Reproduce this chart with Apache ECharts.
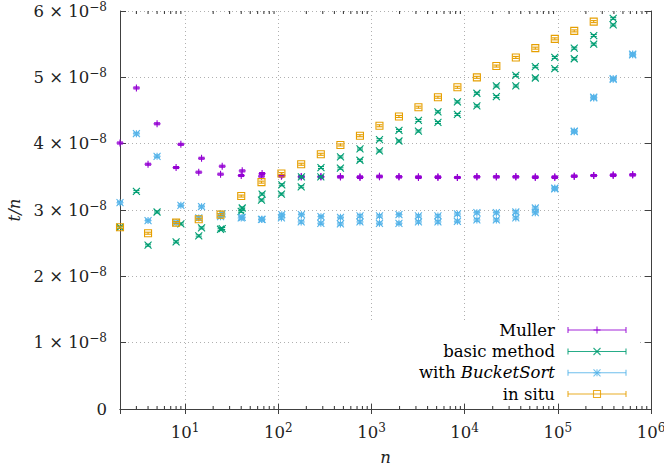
<!DOCTYPE html>
<html>
<head>
<meta charset="utf-8">
<script src="https://cdn.jsdelivr.net/npm/echarts@6/dist/echarts.min.js"></script>
<style>
html,body{margin:0;padding:0;background:#fff}
#chart{width:664px;height:469px}
</style>
</head>
<body>
<div id="chart"></div>
<script>
'use strict'

// n of the two runs (the second one is one less)
var nRunA = [3,5,9,15,25,41,67,109,177,287,465,753,1219,1973,3193,5167,8361,13529,21891,35421,57313,92735,150049,242785,392835,635621];
var nRunB = [2,4,8,14,24,40,66,108,176,286,464,752,1218,1972,3192,5166,8360,13528,21890,35420,57312,92734,150048,242784,392834,635620];

// t/n in units of 1e-8
var mullerA = [4.84,4.30,3.99,3.78,3.66,3.59,3.55,3.52,3.50,3.50,3.50,3.49,3.50,3.50,3.49,3.49,3.49,3.50,3.50,3.50,3.49,3.49,3.51,3.52,3.52,3.53];
var mullerB = [4.01,3.69,3.64,3.57,3.54,3.52,3.51,3.51,3.50,3.50,3.50,3.50,3.51,3.50,3.50,3.50,3.49,3.50,3.50,3.50,3.50,3.50,3.51,3.52,3.53,3.53];
var basicA = [3.28,2.97,2.79,2.73,2.72,3.03,3.24,3.38,3.50,3.64,3.80,3.92,4.06,4.20,4.35,4.48,4.63,4.76,4.87,5.03,5.16,5.30,5.44,5.63,5.89,null];
var basicB = [2.74,2.47,2.52,2.61,2.71,2.98,3.15,3.24,3.35,3.50,3.63,3.75,3.89,4.04,4.19,4.32,4.44,4.57,4.71,4.87,4.99,5.13,5.28,5.50,5.79,null];
var bucketA = [4.15,3.81,3.07,3.05,2.94,2.89,2.86,2.93,2.93,2.90,2.89,2.91,2.91,2.93,2.91,2.91,2.94,2.96,2.96,2.97,3.03,3.33,4.19,4.70,4.98,5.35];
var bucketB = [3.11,2.84,2.81,2.88,2.90,2.88,2.86,2.88,2.82,2.80,2.79,2.82,2.80,2.80,2.82,2.82,2.83,2.85,2.85,2.88,2.96,3.32,4.18,4.69,4.97,5.34];
var inSitu = [2.74,2.65,2.81,2.86,2.93,3.21,3.42,3.55,3.69,3.84,3.98,4.12,4.27,4.41,4.55,4.70,4.85,5.00,5.17,5.30,5.44,5.58,5.70,5.84,null,null];
var errMuller = 0.015, errBasic = 0.015, errBucket = 0.02, errInSitu = 0.015;

var minorTicks = [3,4,5,6,7,8,9,20,30,40,50,60,70,80,90,200,300,400,500,600,700,800,900,
  2000,3000,4000,5000,6000,7000,8000,9000,20000,30000,40000,50000,60000,70000,80000,90000,
  200000,300000,400000,500000,600000,700000,800000,900000];

var seriesNames = ['Muller', 'basic method', 'with BucketSort', 'in situ'];
var seriesColors = ['#9400d3', '#009e73', '#56b4e9', '#e69f00'];
var seriesMarks = ['plus', 'cross', 'star', 'box'];

var FONT = 'DejaVu Serif';
var FS = 16.5;
var TXT = '#222';

function pairs(ns, ys, err){
    var out = [];
    for (var i = 0; i < ns.length; i++) {
        if (ys[i] !== null) out.push([ns[i], ys[i], err]);
    }
    return out;
}

function ln(x1, y1, x2, y2, color){
    return {type:'line', shape:{x1:x1, y1:y1, x2:x2, y2:y2}, style:{stroke:color, lineWidth:1.1}};
}

// point symbol like gnuplot's pt 1,2,3,4
function markShapes(kind, cx, cy, color){
    var s = 3.5, els = [];
    if (kind === 'plus' || kind === 'star') {
        els.push(ln(cx - s, cy, cx + s, cy, color), ln(cx, cy - s, cx, cy + s, color));
    }
    if (kind === 'cross' || kind === 'star') {
        els.push(ln(cx - s, cy - s, cx + s, cy + s, color), ln(cx - s, cy + s, cx + s, cy - s, color));
    }
    if (kind === 'box') {
        els.push({type:'rect', shape:{x:cx - s, y:cy - s, width:2 * s, height:2 * s},
            style:{stroke:color, fill:'transparent', lineWidth:1.1}});
    }
    return els;
}

function pointSeries(idx, data){
    var color = seriesColors[idx], kind = seriesMarks[idx];
    return {
        name: seriesNames[idx],
        type: 'custom',
        coordinateSystem: 'cartesian2d',
        encode: {x: 0, y: 1},
        data: data,
        z: 3 + idx,
        renderItem: function(params, api){
            var x = api.value(0), y = api.value(1), e = api.value(2);
            var p = api.coord([x, y]);
            var t = api.coord([x, y + e]);
            var b = api.coord([x, y - e]);
            var c = 3;
            var kids = [
                ln(p[0], t[1], p[0], b[1], color),
                ln(p[0] - c, t[1], p[0] + c, t[1], color),
                ln(p[0] - c, b[1], p[0] + c, b[1], color)
            ].concat(markShapes(kind, p[0], p[1], color));
            return {type: 'group', children: kids, style: {opacity: 0.85}};
        }
    };
}

function isPow10(v){
    var e = Math.round(Math.log(v) / Math.LN10);
    return Math.abs(v - Math.pow(10, e)) < 1e-6 * v ? e : null;
}

var rich = {
    b: {fontFamily: FONT, fontSize: FS, color: TXT},
    s: {fontFamily: FONT, fontSize: 12, color: TXT, padding: [0, 0, 9, 0]},
    i: {fontFamily: FONT, fontSize: FS, color: TXT, fontStyle: 'italic'}
};

var axisLineStyle = {color: '#404040', width: 1};
var gridLine = {show: true, lineStyle: {color: '#b0b0b0', type: [1, 3], width: 1}};

// legend drawn by hand (text + errorbar sample), gnuplot style
var legendRows = [330, 351.5, 372.8, 394];
var legendGraphics = [{
    type: 'rect', shape: {x: 350, y: 320, width: 287, height: 83},
    style: {fill: '#fff'}, z: 1
}];
var legendTexts = ['{b|Muller}', '{b|basic method}', '{b|with }{i|BucketSort}', '{b|in situ}'];
legendRows.forEach(function(ry, i){
    var col = seriesColors[i];
    legendGraphics.push({
        type: 'text', z: 10,
        style: {x: 555, y: ry, text: legendTexts[i], rich: rich, fontFamily: FONT, fontSize: FS,
            align: 'right', verticalAlign: 'middle'}
    });
    var parts = [ln(568, ry, 626, ry, col), ln(568, ry - 3, 568, ry + 3, col), ln(626, ry - 3, 626, ry + 3, col)]
        .concat(markShapes(seriesMarks[i], 597, ry, col));
    parts.forEach(function(el){ el.z = 10; el.style.opacity = 0.85; legendGraphics.push(el); });
});

var chart = echarts.init(document.getElementById('chart'), null, {renderer: 'svg'});
chart.setOption({
    animation: false,
    backgroundColor: '#fff',
    textStyle: {fontFamily: FONT},
    grid: {left: 120, right: 13, top: 11, bottom: 60, containLabel: false, outerBoundsMode: 'none'},
    xAxis: [{
        type: 'log', logBase: 10, min: 2, max: 1e6,
        name: 'n', nameLocation: 'middle', nameGap: 40,
        nameTextStyle: {fontFamily: FONT, fontSize: FS, fontStyle: 'italic', color: TXT},
        axisLine: {show: true, lineStyle: axisLineStyle},
        axisTick: {show: true, inside: true, length: 5, lineStyle: axisLineStyle},
        axisLabel: {
            margin: 13, rich: rich, fontFamily: FONT,
            formatter: function(v){
                var e = isPow10(v);
                return e === null ? '' : '{b|10}{s|' + e + '}';
            }
        },
        splitLine: gridLine
    }, {
        type: 'log', logBase: 10, min: 2, max: 1e6, position: 'top',
        axisLine: {show: true, lineStyle: axisLineStyle},
        axisTick: {show: true, inside: true, length: 5, lineStyle: axisLineStyle},
        axisLabel: {show: false},
        splitLine: {show: false}
    }],
    yAxis: [{
        type: 'value', min: 0, max: 6, interval: 1,
        name: 't/n', nameLocation: 'middle', nameGap: 90, nameRotate: 90,
        nameTextStyle: {fontFamily: FONT, fontSize: FS, fontStyle: 'italic', color: TXT},
        axisLine: {show: true, lineStyle: axisLineStyle},
        axisTick: {show: true, inside: true, length: 6, lineStyle: axisLineStyle},
        axisLabel: {
            margin: 13, rich: rich, fontFamily: FONT,
            formatter: function(v){
                return v === 0 ? '{b|0}' : '{b|' + v + ' × 10}{s|−8}';
            }
        },
        splitLine: gridLine
    }, {
        type: 'value', min: 0, max: 6, interval: 1, position: 'right',
        axisLine: {show: true, lineStyle: axisLineStyle},
        axisTick: {show: true, inside: true, length: 6, lineStyle: axisLineStyle},
        axisLabel: {show: false},
        splitLine: {show: false}
    }],
    graphic: legendGraphics,
    series: [{
        // minor ticks of the log axis, bottom and top border
        type: 'custom',
        coordinateSystem: 'cartesian2d',
        encode: {x: 0},
        data: minorTicks.map(function(v){ return [v, 0]; }),
        z: 2,
        silent: true,
        renderItem: function(params, api){
            var v = api.value(0);
            var b = api.coord([v, 0]), t = api.coord([v, 6]);
            return {type: 'group', children: [
                ln(b[0], b[1], b[0], b[1] - 3, '#404040'),
                ln(t[0], t[1], t[0], t[1] + 3, '#404040')
            ]};
        }
    },
        pointSeries(0, pairs(nRunA, mullerA, errMuller).concat(pairs(nRunB, mullerB, errMuller))),
        pointSeries(1, pairs(nRunA, basicA, errBasic).concat(pairs(nRunB, basicB, errBasic))),
        pointSeries(2, pairs(nRunA, bucketA, errBucket).concat(pairs(nRunB, bucketB, errBucket))),
        pointSeries(3, pairs(nRunB, inSitu, errInSitu))
    ]
});
</script>
</body>
</html>
